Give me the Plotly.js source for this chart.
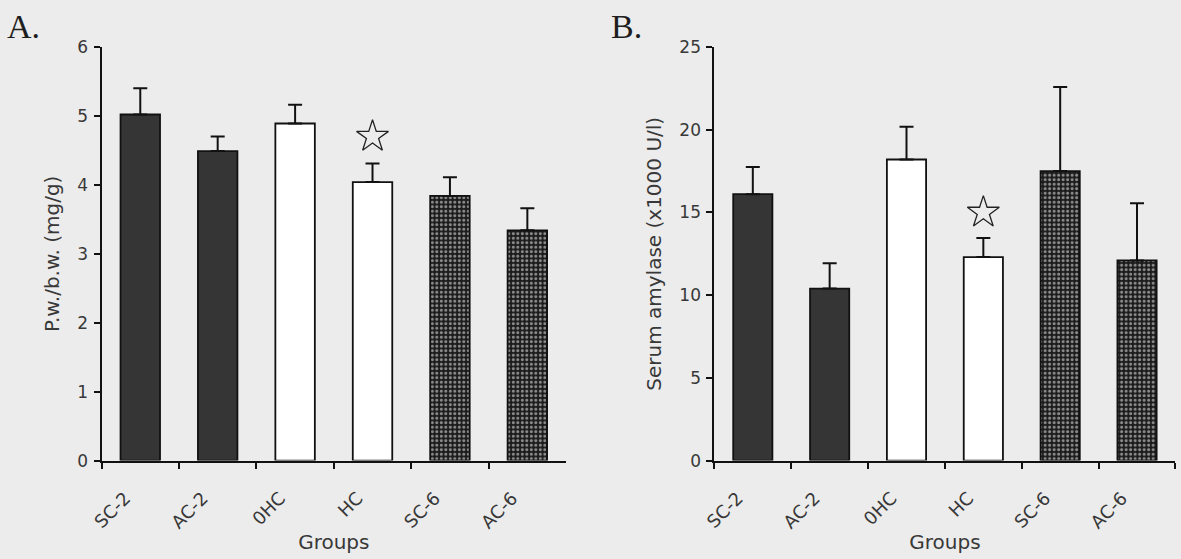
<!DOCTYPE html>
<html>
<head>
<meta charset="utf-8">
<script src="https://cdn.plot.ly/plotly-3.0.1.min.js"></script>
<style>
  html, body { margin: 0; padding: 0; background: #ececec; }
  #chart { width: 1181px; height: 559px; }
</style>
</head>
<body>
<div id="chart"></div>
<script>
// ---- data ----
const categories = ["SC-2", "AC-2", "0HC", "HC", "SC-6", "AC-6"];
const pwbw      = [5.02, 4.49, 4.89, 4.04, 3.84, 3.34];
const pwbwErr   = [0.38, 0.21, 0.27, 0.27, 0.27, 0.32];
const amylase    = [16.1, 10.4, 18.2, 12.3, 17.5, 12.1];
const amylaseErr = [1.64, 1.53, 1.98, 1.15, 5.08, 3.45];
const starGroup = ["HC"];
const starA = [4.70];
const starB = [15.0];
const yTicksA = [0, 1, 2, 3, 4, 5, 6];
const yTicksB = [0, 5, 10, 15, 20, 25];

// ---- styling ----
const fills = ["#353535", "#353535", "#ffffff", "#ffffff", "#1c1c1c", "#1c1c1c"];
const shapes = ["", "", "", "", ".", "."];
const zeros = categories.map(() => 0);
const textCol = "#383838";
const yTickFont = {family: "DejaVu Sans", size: 17, color: textCol};
const xTickFont = {family: "DejaVu Sans", size: 18, color: textCol};
const titleFont = {family: "DejaVu Sans", size: 20, color: textCol};

function barTrace(vals, errs, xa, ya) {
  return {
    type: "bar", x: categories, y: vals, xaxis: xa, yaxis: ya,
    marker: {
      color: fills,
      line: {color: "#111", width: 1.8},
      pattern: {shape: shapes, fillmode: "overlay", fgcolor: "#e2e2e2", size: 4.5, solidity: 0.34}
    },
    error_y: {type: "data", symmetric: false, array: errs, arrayminus: zeros,
              color: "#111", thickness: 2, width: 7},
    hoverinfo: "x+y", showlegend: false
  };
}
function starTrace(vals, xa, ya) {
  return {
    type: "scatter", mode: "markers", x: starGroup, y: vals, xaxis: xa, yaxis: ya,
    marker: {symbol: "star-open", size: 24, color: "#222", line: {width: 1.3, color: "#222"}},
    showlegend: false, hoverinfo: "skip"
  };
}

const data = [
  barTrace(pwbw, pwbwErr, "x", "y"),
  starTrace(starA, "x", "y"),
  barTrace(amylase, amylaseErr, "x2", "y2"),
  starTrace(starB, "x2", "y2")
];

function xAxis(domain, anchor) {
  return {
    domain: domain, anchor: anchor, type: "category", range: [-0.5, 5.5],
    showline: true, linecolor: "#111", linewidth: 2,
    ticks: "outside", tickson: "boundaries", ticklen: 6, tickwidth: 2, tickcolor: "#111",
    tickangle: -45, tickfont: xTickFont, ticklabelstandoff: 18, ticklabelshift: -15,
    showgrid: false, zeroline: false,
    title: {text: "Groups", font: {family: "DejaVu Sans", size: 20, color: textCol}, standoff: 4}
  };
}
function yAxis(domain, anchor, range, tickvals, title, standoff) {
  return {
    domain: domain, anchor: anchor, range: range, tickvals: tickvals,
    showline: true, linecolor: "#111", linewidth: 2,
    ticks: "outside", ticklen: 6, tickwidth: 2, tickcolor: "#111",
    tickfont: yTickFont, ticklabelstandoff: 2,
    showgrid: false, zeroline: false,
    title: {text: title, font: titleFont, standoff: standoff}
  };
}

const layout = {
  width: 1181, height: 559,
  margin: {l: 0, r: 0, t: 0, b: 0},
  paper_bgcolor: "#ececec", plot_bgcolor: "rgba(0,0,0,0)",
  bargap: 0.49,
  xaxis: xAxis([0.086, 0.4793], "y"),
  yaxis: yAxis([0.176, 0.916], "x", [0, 6], yTicksA, "P.w./b.w. (mg/g)", 12),
  xaxis2: xAxis([0.6049, 0.9953], "y2"),
  yaxis2: yAxis([0.176, 0.916], "x2", [0, 25], yTicksB, "Serum amylase (x1000 U/l)", 12),
  annotations: [
    {text: "A.", xref: "paper", yref: "paper", x: 24 / 1181, y: 1 - 27 / 559,
     xanchor: "center", yanchor: "middle", showarrow: false,
     font: {family: "Liberation Serif", size: 34, color: "#1e1e1e"}},
    {text: "B.", xref: "paper", yref: "paper", x: 626 / 1181, y: 1 - 27 / 559,
     xanchor: "center", yanchor: "middle", showarrow: false,
     font: {family: "Liberation Serif", size: 34, color: "#1e1e1e"}}
  ]
};

Plotly.newPlot("chart", data, layout, {staticPlot: true});
</script>
</body>
</html>
